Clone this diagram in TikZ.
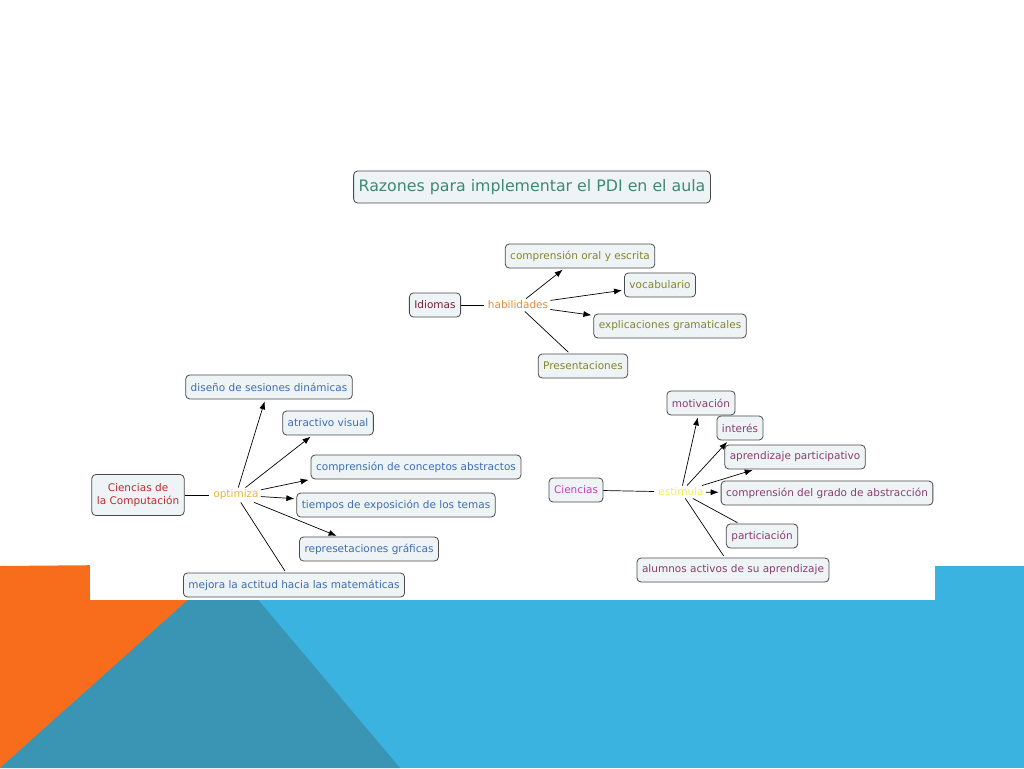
\documentclass[tikz,border=0pt]{standalone}
\usepackage{fontspec}
\setmainfont{DejaVu Sans}
\usetikzlibrary{arrows.meta}

\definecolor{boxfill}{HTML}{EEF4F6}
\definecolor{boxline}{HTML}{4A4A4A}
\definecolor{titlegreen}{HTML}{3D8A6E}
\definecolor{wine}{HTML}{7A1F35}
\definecolor{habcol}{HTML}{E08A3C}
\definecolor{olive}{HTML}{84842E}
\definecolor{compred}{HTML}{C0282C}
\definecolor{optcol}{HTML}{E8B43A}
\definecolor{leftblue}{HTML}{3F6CB4}
\definecolor{magenta}{HTML}{C83CBF}
\definecolor{estcol}{HTML}{EEEE50}
\definecolor{plum}{HTML}{8C3C6E}
\definecolor{bgorange}{HTML}{F86D1C}
\definecolor{bgteal}{HTML}{3A94B3}
\definecolor{bgblue}{HTML}{3BB3E0}

\tikzset{
  concept/.style={draw=boxline, fill=boxfill, rounded corners=4pt, line width=0.8pt,
    minimum height=24pt, inner xsep=5pt, inner ysep=2pt, font=\fontsize{10.5}{12.5}\selectfont},
  linkword/.style={inner sep=2pt, font=\fontsize{10.5}{12.5}\selectfont},
}

\begin{document}
\begin{tikzpicture}[x=1pt, y=-1pt, line width=0.7pt,
  >={Latex[length=8pt,width=6pt]}, shorten >=2pt]
\useasboundingbox (0,0) rectangle (1024,768);

% background of the slide
\fill[bgblue] (0,566) rectangle (1024,768);
\fill[bgorange] (0,566) -- (228,564) -- (0,768) -- cycle;
\fill[bgteal] (228,564) -- (400,768) -- (0,768) -- cycle;
\fill[white] (90,540) rectangle (935,600);

% title
\node[concept, font=\fontsize{15.8}{18}\selectfont, text=titlegreen, minimum height=32pt]
  (title) at (532,187) {Razones para implementar el PDI en el aula};

% Idiomas
\node[concept, text=wine] (idiomas) at (435,305) {Idiomas};
\node[linkword, text=habcol] (habil) at (518,305) {habilidades};
\node[concept, text=olive] (oral) at (580,256) {comprensión oral y escrita};
\node[concept, text=olive] (vocab) at (660,285) {vocabulario};
\node[concept, text=olive] (gramat) at (670,326) {explicaciones gramaticales};
\node[concept, text=olive] (present) at (583,366) {Presentaciones};

\draw (idiomas) -- (habil);
\draw[->] (habil) -- (oral);
\draw[->] (habil) -- (vocab);
\draw[->] (habil) -- (gramat);
\draw (habil) -- (present);

% Ciencias de la Computacion
\node[concept, text=compred, align=center, minimum height=41pt] (compu) at (138,495)
  {Ciencias de\\la Computación};
\node[linkword, text=optcol] (optim) at (236,495) {optimiza};
\node[concept, text=leftblue] (disen) at (269,387) {diseño de sesiones dinámicas};
\node[concept, text=leftblue] (atract) at (328,423) {atractivo visual};
\node[concept, text=leftblue] (concep) at (416,467) {comprensión de conceptos abstractos};
\node[concept, text=leftblue] (tiempos) at (396,505) {tiempos de exposición de los temas};
\node[concept, text=leftblue] (repres) at (369,549) {represetaciones gráficas};
\node[concept, text=leftblue] (mejora) at (294,585) {mejora la actitud hacia las matemáticas};

\draw (compu) -- (optim);
\draw[->] (optim) -- (disen);
\draw[->] (optim) -- (atract);
\draw[->] (optim) -- (concep.south west);
\draw[->] (optim) -- (tiempos);
\draw[->] (optim) -- (repres);
\draw (optim) -- (mejora);

% Ciencias
\node[concept, text=magenta] (cienc) at (576,490) {Ciencias};
\node[linkword, text=estcol] (estim) at (681,492) {estimula};
\node[concept, text=plum] (motiv) at (701,403) {motivación};
\node[concept, text=plum] (interes) at (740,428) {interés};
\node[concept, text=plum] (aprend) at (795,457) {aprendizaje participativo};
\node[concept, text=plum] (grado) at (827,493) {comprensión del grado de abstracción};
\node[concept, text=plum] (partic) at (762,536) {particiación};
\node[concept, text=plum] (alumnos) at (733,570) {alumnos activos de su aprendizaje};

\draw (cienc) -- (estim);
\draw[->] (estim) -- (motiv);
\draw[->] (estim) -- (interes);
\draw[->] (estim) -- (aprend);
\draw[->] (estim) -- (grado);
\draw (estim) -- (partic);
\draw (estim) -- (alumnos);
\end{tikzpicture}
\end{document}
